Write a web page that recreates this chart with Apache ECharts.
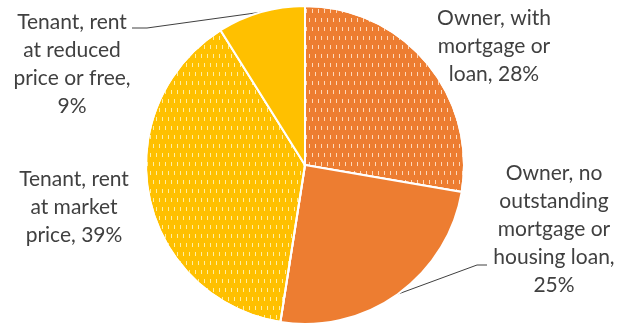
<!DOCTYPE html>
<html>
<head>
<meta charset="utf-8">
<script src="https://cdn.jsdelivr.net/npm/echarts@6/dist/echarts.min.js"></script>
<style>
  html, body { margin: 0; padding: 0; background: #fff; }
  #chart { width: 619px; height: 327px; }
</style>
</head>
<body>
<div id="chart"></div>
<script>
// Housing tenure shares
const categories = [
  'Owner, with\nmortgage or\nloan',
  'Owner, no\noutstanding\nmortgage or\nhousing loan',
  'Tenant, rent\nat market\nprice',
  'Tenant, rent\nat reduced\nprice or free'
];
const shares = [28, 25, 39, 9];
// Whether the percentage goes on its own line in the label
const percentOnOwnLine = [false, true, false, true];

const ORANGE = '#ED7D31';
const YELLOW = '#FFC000';

// Short vertical dashes used as a fill pattern
function dashes(color) {
  return {
    symbol: 'rect',
    symbolSize: 1,
    color: color,
    dashArrayX: [[1, 5], [0, 3, 1, 2]],
    dashArrayY: [4, 5],
    rotation: 0
  };
}

const styles = [
  { color: ORANGE, decal: dashes('rgba(255,225,200,0.9)') },
  { color: ORANGE },
  { color: YELLOW, decal: dashes('rgba(255,240,170,0.95)') },
  { color: YELLOW }
];

// Label anchor points (centre of each text block) and leader line elbows
const labelSpots = [
  { x: 494, y: 46 },
  { x: 554, y: 229 },
  { x: 74, y: 207 },
  { x: 72, y: 64 }
];
const elbows = {
  1: [[477, 265], [487, 265]],
  3: [[147, 28], [132, 28]]
};

const chart = echarts.init(document.getElementById('chart'), null, { renderer: 'canvas' });

chart.setOption({
  animation: false,
  backgroundColor: '#fff',
  series: [{
    type: 'pie',
    center: [305, 165],
    radius: 159,
    startAngle: 90,
    clockwise: true,
    avoidLabelOverlap: false,
    itemStyle: { borderColor: '#fff', borderWidth: 2 },
    label: {
      show: true,
      position: 'outside',
      formatter: p => p.name + ',' + (percentOnOwnLine[p.dataIndex] ? '\n' : ' ') + p.value + '%',
      fontFamily: 'Lato, "Open Sans", sans-serif',
      fontSize: 21,
      lineHeight: 28,
      color: '#404040',
      align: 'center'
    },
    labelLine: {
      show: true,
      length: 10,
      length2: 10,
      lineStyle: { color: '#404040', width: 1 }
    },
    labelLayout: function (params) {
      const i = params.dataIndex;
      const spot = labelSpots[i];
      const out = {
        x: spot.x,
        y: spot.y,
        align: 'center',
        verticalAlign: 'middle'
      };
      if (elbows[i] && params.labelLinePoints) {
        out.labelLinePoints = [params.labelLinePoints[0]].concat(elbows[i]);
      }
      return out;
    },
    data: categories.map((name, i) => ({
      name: name,
      value: shares[i],
      itemStyle: styles[i],
      labelLine: { show: !!elbows[i] }
    }))
  }]
});
</script>
</body>
</html>
